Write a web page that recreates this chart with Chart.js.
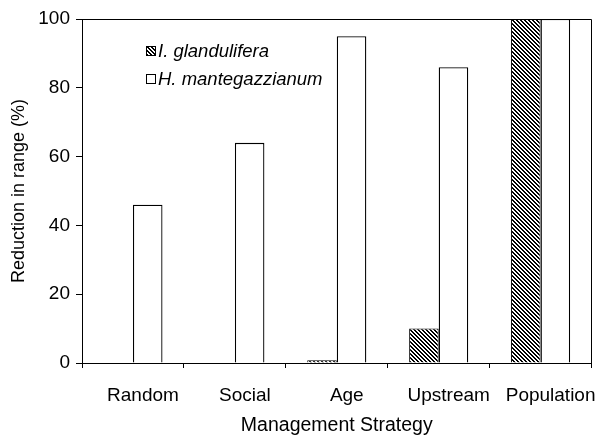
<!DOCTYPE html>
<html><head><meta charset="utf-8">
<script src="https://cdn.jsdelivr.net/npm/chart.js@4.4.0/dist/chart.umd.min.js"></script>
<style>
html,body{margin:0;padding:0;background:#fff;}
#wrap{position:relative;width:602px;height:435px;overflow:hidden;}
#legend{position:absolute;left:146px;top:37px;font:italic 18.5px "Liberation Sans",Arial,sans-serif;color:#000;}
.item{display:flex;align-items:center;height:28px;white-space:nowrap;}
.sw{width:10px;height:10px;border:1px solid #000;box-sizing:border-box;margin-right:2px;background:#fff;}
</style></head>
<body><div id="wrap"><canvas id="c" width="602" height="435"></canvas><div id="legend"></div></div>
<script>
const categories = ['Random', 'Social', 'Age', 'Upstream', 'Population'];
const seriesNames = ['I. glandulifera', 'H. mantegazzianum'];
const glandulifera = [0, 0, 0.8, 10, 100];
const mantegazzianum = [46, 64, 95, 86, 100];
const yTicks = [0, 20, 40, 60, 80, 100];
const xTitle = 'Management Strategy';
const yTitle = 'Reduction in range (%)';

const FAM = '"Liberation Sans", Arial, sans-serif';

function hatchCanvas() {
  const c = document.createElement('canvas');
  c.width = 4; c.height = 4;
  const g = c.getContext('2d');
  g.fillStyle = '#fff'; g.fillRect(0, 0, 4, 4);
  g.fillStyle = '#000';
  for (let y = 0; y < 4; y++) for (let x = 0; x < 4; x++) {
    if ((((x - y) % 4) + 4) % 4 < 2) g.fillRect(x, y, 1, 1);
  }
  return c;
}
const hc = hatchCanvas();
const ctx = document.getElementById('c').getContext('2d');
const hatch = ctx.createPattern(hc, 'repeat');

// legend (HTML text)
const legend = document.getElementById('legend');
const fills = ['url(' + hc.toDataURL() + ')', '#fff'];
seriesNames.forEach((n, i) => {
  const d = document.createElement('div'); d.className = 'item';
  const s = document.createElement('span'); s.className = 'sw';
  s.style.background = fills[i];
  const t = document.createElement('span'); t.textContent = n;
  d.appendChild(s); d.appendChild(t); legend.appendChild(d);
});

const framePlugin = {
  id: 'frame',
  afterDatasetsDraw(chart) {
    const a = chart.chartArea, g = chart.ctx;
    g.save();
    g.strokeStyle = '#000'; g.lineWidth = 1;
    g.beginPath();
    g.moveTo(a.left, Math.round(a.top) + 0.5);
    g.lineTo(Math.round(a.right) - 0.5, Math.round(a.top) + 0.5);
    g.lineTo(Math.round(a.right) - 0.5, a.bottom);
    g.stroke();
    g.restore();
  }
};

new Chart(ctx, {
  type: 'bar',
  data: {
    labels: categories,
    datasets: [
      { label: seriesNames[0], data: glandulifera, backgroundColor: hatch, borderColor: '#000', borderWidth: 1 },
      { label: seriesNames[1], data: mantegazzianum, backgroundColor: '#fff', borderColor: '#000', borderWidth: 1.3 }
    ]
  },
  options: {
    responsive: false,
    devicePixelRatio: 1,
    animation: false,
    layout: { padding: { top: 19, right: 5, left: 0, bottom: 0 } },
    datasets: { bar: { categoryPercentage: 0.58, barPercentage: 1 } },
    plugins: { legend: { display: false }, tooltip: { enabled: false } },
    scales: {
      x: {
        type: 'category',
        offset: true,
        grid: { display: true, offset: true, drawOnChartArea: false, drawTicks: true, tickLength: 5, color: '#000' },
        border: { display: true, color: '#000', width: 1 },
        ticks: { color: '#000', font: { family: FAM, size: 19 }, padding: 16, labelOffset: 10, maxRotation: 0, autoSkip: false },
        title: { display: true, text: xTitle, color: '#000', font: { family: FAM, size: 19.5, lineHeight: 1 }, padding: 0 },
        afterFit(s) { s.height = 72; }
      },
      y: {
        min: 0, max: 100,
        afterBuildTicks(s) { s.ticks = yTicks.map(v => ({ value: v })); },
        grid: { display: true, drawOnChartArea: false, drawTicks: true, tickLength: 6, color: '#000' },
        border: { display: true, color: '#000', width: 1 },
        ticks: { color: '#000', font: { family: FAM, size: 19 }, padding: 6 },
        title: { display: true, text: yTitle, color: '#000', font: { family: FAM, size: 18 }, padding: { top: 8, bottom: 0 } },
        afterFit(s) { s.width = 82; }
      }
    }
  },
  plugins: [framePlugin]
});
</script>
</body></html>
